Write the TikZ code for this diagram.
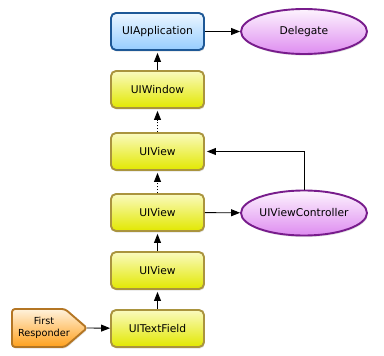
\documentclass[tikz,border=0pt]{standalone}
\usepackage{fontspec}
\setmainfont{DejaVu Sans}
\usetikzlibrary{arrows.meta,shadows,shapes.geometric}

% Palette
\definecolor{ytop}{RGB}{250,250,190}
\definecolor{ybot}{RGB}{226,232,0}
\definecolor{yline}{RGB}{170,148,62}
\definecolor{btop}{RGB}{236,246,255}
\definecolor{bbot}{RGB}{150,205,255}
\definecolor{bline}{RGB}{30,88,150}
\definecolor{ptop}{RGB}{253,244,254}
\definecolor{pbot}{RGB}{222,140,240}
\definecolor{pline}{RGB}{120,28,140}
\definecolor{otop}{RGB}{255,242,220}
\definecolor{obot}{RGB}{255,160,28}
\definecolor{oline}{RGB}{180,118,36}

\begin{document}
\begin{tikzpicture}[x=1pt,y=-1pt,
  font=\fontsize{10.7}{12}\selectfont,
  shade/.style={drop shadow={opacity=0.22,shadow xshift=0.8pt,shadow yshift=-1.6pt}},
  box/.style={rectangle,rounded corners=5pt,minimum width=93pt,minimum height=37pt,
    line width=1.9pt,inner sep=0pt,shade},
  ybox/.style={box,draw=yline,top color=ytop,bottom color=ybot},
  bbox/.style={box,draw=bline,top color=btop,bottom color=bbot},
  oval/.style={ellipse,minimum width=126pt,minimum height=45pt,inner sep=0pt,
    line width=1.9pt,draw=pline,top color=ptop,bottom color=pbot,shade},
  tagshape/.style={rounded corners=3pt,line width=1.9pt,draw=oline,
    top color=otop,bottom color=obot,shade},
  tagtext/.style={align=center,inner sep=0pt,font=\fontsize{9.7}{11.8}\selectfont},
  link/.style={line width=0.9pt,-{Triangle[length=9pt,width=7pt]}},
  dlink/.style={link,dotted,shorten >=2pt},
]
\useasboundingbox (0,0) rectangle (384,356);

% Responder chain
\node[bbox] (app) at (157.5,31.5) {UIApplication};
\node[ybox] (win) at (157.5,89.5) {UIWindow};
\node[ybox] (v1)  at (157.5,151.5) {UIView};
\node[ybox] (v2)  at (157.5,212.5) {UIView};
\node[ybox] (v3)  at (157.5,270.5) {UIView};
\node[ybox] (tf)  at (157.5,328.5) {UITextField};

% Delegates and controller
\node[oval] (del) at (304,31.5) {Delegate};
\node[oval] (vc)  at (304,213) {UIViewController};

% Starting point: pointed tag
\path[tagshape] (12,309) -- (65,309) -- (87,328) -- (65,347) -- (12,347) -- cycle;
\node[tagtext] (fr) at (44,328) {First\\Responder};
\coordinate (frtip) at (87,328);

% Connectors
\draw[link] (app) -- (del);
\draw[link,shorten >=2pt] (win) -- (app);
\draw[dlink] (v1) -- (win);
\draw[dlink] (v2) -- (v1);
\draw[link,shorten >=2pt] (v3) -- (v2);
\draw[link,shorten >=2pt] (tf) -- (v3);
\draw[link] (frtip) -- (tf);
\draw[link] (v2) -- (vc);
\draw[link,shorten >=2pt] (vc.north) |- (v1.east);
\end{tikzpicture}
\end{document}
